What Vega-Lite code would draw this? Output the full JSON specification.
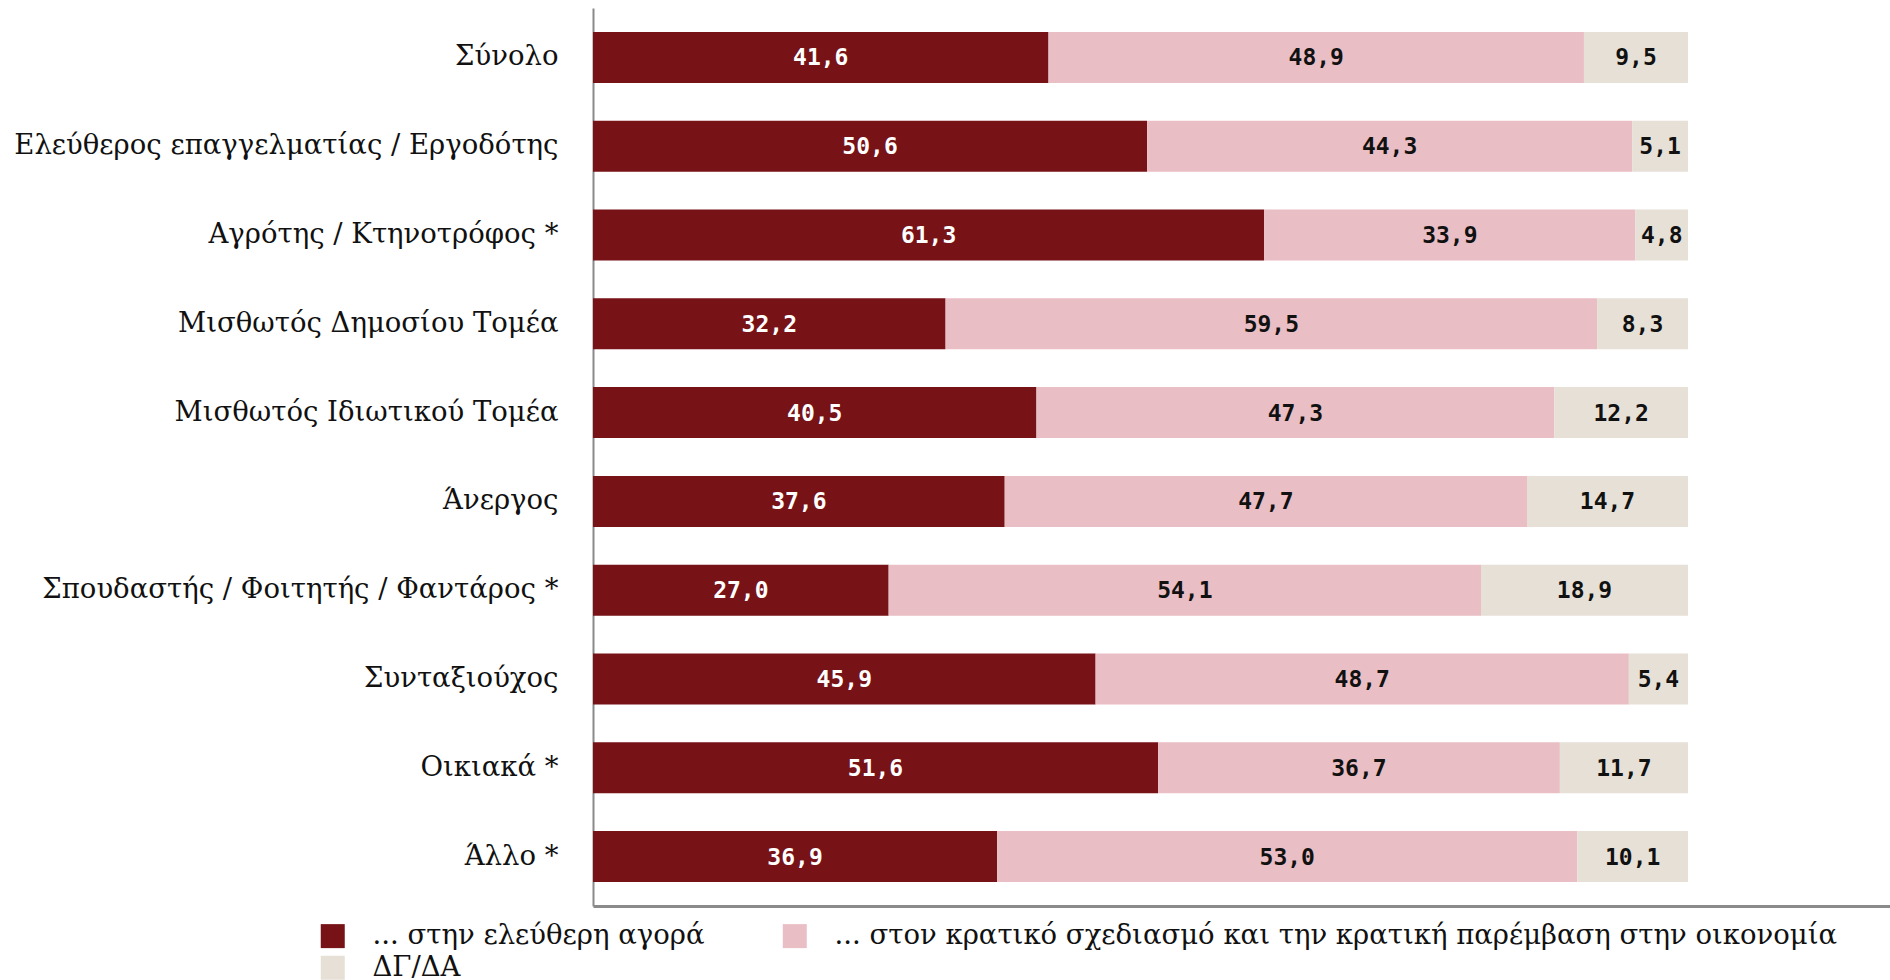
{
  "$schema": "https://vega.github.io/schema/vega-lite/v6.json",
  "width": 1297,
  "height": 898,
  "autosize": {"type": "none"},
  "padding": {"left": 593, "top": 8, "right": 0, "bottom": 74},
  "config": {
    "locale": {"number": {"decimal": ",", "thousands": ".", "grouping": [3], "currency": ["", " €"]}},
    "view": {"stroke": null}
  },
  "data": {
    "values": [
      {"group": "Σύνολο", "answer": "... στην ελεύθερη αγορά", "ord": 1, "value": 41.6},
      {"group": "Σύνολο", "answer": "... στον κρατικό σχεδιασμό και την κρατική παρέμβαση στην οικονομία", "ord": 2, "value": 48.9},
      {"group": "Σύνολο", "answer": "ΔΓ/ΔΑ", "ord": 3, "value": 9.5},
      {"group": "Ελεύθερος επαγγελματίας / Εργοδότης", "answer": "... στην ελεύθερη αγορά", "ord": 1, "value": 50.6},
      {"group": "Ελεύθερος επαγγελματίας / Εργοδότης", "answer": "... στον κρατικό σχεδιασμό και την κρατική παρέμβαση στην οικονομία", "ord": 2, "value": 44.3},
      {"group": "Ελεύθερος επαγγελματίας / Εργοδότης", "answer": "ΔΓ/ΔΑ", "ord": 3, "value": 5.1},
      {"group": "Αγρότης / Κτηνοτρόφος *", "answer": "... στην ελεύθερη αγορά", "ord": 1, "value": 61.3},
      {"group": "Αγρότης / Κτηνοτρόφος *", "answer": "... στον κρατικό σχεδιασμό και την κρατική παρέμβαση στην οικονομία", "ord": 2, "value": 33.9},
      {"group": "Αγρότης / Κτηνοτρόφος *", "answer": "ΔΓ/ΔΑ", "ord": 3, "value": 4.8},
      {"group": "Μισθωτός Δημοσίου Τομέα", "answer": "... στην ελεύθερη αγορά", "ord": 1, "value": 32.2},
      {"group": "Μισθωτός Δημοσίου Τομέα", "answer": "... στον κρατικό σχεδιασμό και την κρατική παρέμβαση στην οικονομία", "ord": 2, "value": 59.5},
      {"group": "Μισθωτός Δημοσίου Τομέα", "answer": "ΔΓ/ΔΑ", "ord": 3, "value": 8.3},
      {"group": "Μισθωτός Ιδιωτικού Τομέα", "answer": "... στην ελεύθερη αγορά", "ord": 1, "value": 40.5},
      {"group": "Μισθωτός Ιδιωτικού Τομέα", "answer": "... στον κρατικό σχεδιασμό και την κρατική παρέμβαση στην οικονομία", "ord": 2, "value": 47.3},
      {"group": "Μισθωτός Ιδιωτικού Τομέα", "answer": "ΔΓ/ΔΑ", "ord": 3, "value": 12.2},
      {"group": "Άνεργος", "answer": "... στην ελεύθερη αγορά", "ord": 1, "value": 37.6},
      {"group": "Άνεργος", "answer": "... στον κρατικό σχεδιασμό και την κρατική παρέμβαση στην οικονομία", "ord": 2, "value": 47.7},
      {"group": "Άνεργος", "answer": "ΔΓ/ΔΑ", "ord": 3, "value": 14.7},
      {"group": "Σπουδαστής / Φοιτητής / Φαντάρος *", "answer": "... στην ελεύθερη αγορά", "ord": 1, "value": 27.0},
      {"group": "Σπουδαστής / Φοιτητής / Φαντάρος *", "answer": "... στον κρατικό σχεδιασμό και την κρατική παρέμβαση στην οικονομία", "ord": 2, "value": 54.1},
      {"group": "Σπουδαστής / Φοιτητής / Φαντάρος *", "answer": "ΔΓ/ΔΑ", "ord": 3, "value": 18.9},
      {"group": "Συνταξιούχος", "answer": "... στην ελεύθερη αγορά", "ord": 1, "value": 45.9},
      {"group": "Συνταξιούχος", "answer": "... στον κρατικό σχεδιασμό και την κρατική παρέμβαση στην οικονομία", "ord": 2, "value": 48.7},
      {"group": "Συνταξιούχος", "answer": "ΔΓ/ΔΑ", "ord": 3, "value": 5.4},
      {"group": "Οικιακά *", "answer": "... στην ελεύθερη αγορά", "ord": 1, "value": 51.6},
      {"group": "Οικιακά *", "answer": "... στον κρατικό σχεδιασμό και την κρατική παρέμβαση στην οικονομία", "ord": 2, "value": 36.7},
      {"group": "Οικιακά *", "answer": "ΔΓ/ΔΑ", "ord": 3, "value": 11.7},
      {"group": "Άλλο *", "answer": "... στην ελεύθερη αγορά", "ord": 1, "value": 36.9},
      {"group": "Άλλο *", "answer": "... στον κρατικό σχεδιασμό και την κρατική παρέμβαση στην οικονομία", "ord": 2, "value": 53.0},
      {"group": "Άλλο *", "answer": "ΔΓ/ΔΑ", "ord": 3, "value": 10.1}
    ]
  },
  "encoding": {
    "y": {
      "field": "group", "type": "nominal", "sort": null,
      "scale": {"paddingInner": 0.426, "paddingOuter": 0.27},
      "axis": {"title": null, "ticks": false, "labelFont": "DejaVu Serif", "labelFontSize": 27.5, "labelColor": "#111111", "labelPadding": 35, "labelLimit": 0, "domainColor": "#8a8a8a", "domainWidth": 2}
    }
  },
  "layer": [
    {
      "mark": {"type": "bar"},
      "encoding": {
        "x": {"field": "value", "type": "quantitative", "stack": "zero", "scale": {"domain": [0, 118.45], "nice": false}, "axis": {"title": null, "labels": false, "ticks": false, "grid": false, "domainColor": "#8a8a8a", "domainWidth": 3}},
        "color": {
          "field": "answer", "type": "nominal",
          "scale": {"domain": ["... στην ελεύθερη αγορά", "... στον κρατικό σχεδιασμό και την κρατική παρέμβαση στην οικονομία", "ΔΓ/ΔΑ"], "range": ["#771217", "#E9BEC5", "#E6E0D7"]},
          "legend": {"title": null, "orient": "none", "legendX": -274, "legendY": 914, "direction": "horizontal", "columns": 2, "symbolType": "square", "symbolSize": 576, "symbolStrokeWidth": 0, "symbolOpacity": 1, "labelFont": "DejaVu Serif", "labelFontSize": 27.5, "labelColor": "#111111", "labelLimit": 0, "labelOffset": 26, "columnPadding": 76, "rowPadding": 3}
        },
        "order": {"field": "ord"}
      }
    },
    {
      "mark": {"type": "text", "font": "DejaVu Sans Mono", "fontWeight": "bold", "fontSize": 23, "dy": 1},
      "encoding": {
        "x": {"field": "value", "type": "quantitative", "stack": "zero", "bandPosition": 0.5},
        "detail": {"field": "answer"},
        "order": {"field": "ord"},
        "text": {"field": "value", "type": "quantitative", "format": ".1f"},
        "color": {"condition": {"test": "datum.ord === 1", "value": "#ffffff"}, "value": "#111111"}
      }
    }
  ]
}
